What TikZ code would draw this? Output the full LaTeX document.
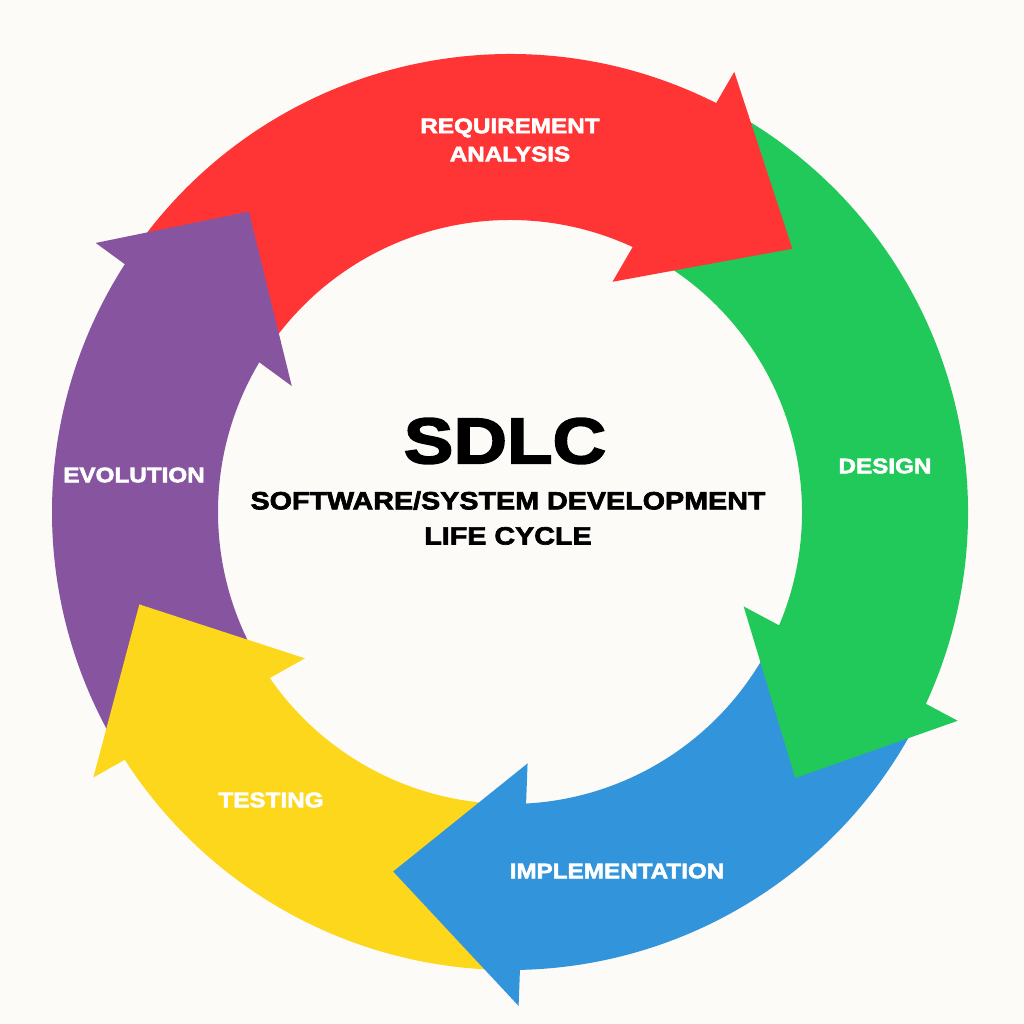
\documentclass[tikz,border=0pt]{standalone}
\usepackage{fontspec}
\usepackage{tikz}
\newfontfamily\sdlcfont{Liberation Sans}[FakeStretch=1.15, FakeBold=2.6]
\definecolor{paper}{HTML}{FCFBF8}
\definecolor{reqred}{HTML}{FF3434}
\definecolor{desgreen}{HTML}{21C95A}
\definecolor{impblue}{HTML}{3294DA}
\definecolor{testyellow}{HTML}{FDD71C}
\definecolor{evolpurple}{HTML}{8755A0}
\tikzstyle{stage}=[text=white, align=center, font=\sdlcfont\bfseries\fontsize{6}{8}\selectfont]
\tikzstyle{title}=[text=black, align=center, font=\sdlcfont\bfseries\fontsize{18.4}{20}\selectfont]
\tikzstyle{subtitle}=[text=black, align=center, font=\sdlcfont\bfseries\fontsize{7.1}{10}\selectfont]

\begin{document}
\begin{tikzpicture}[x=1cm, y=1cm]
    \fill[paper] (-5.10,-5.12) rectangle (5.14,5.12);
    \useasboundingbox (-5.10,-5.12) rectangle (5.14,5.12);
% Bodies
    \fill[reqred] (144:4.58) arc[start angle=144, end angle=62, radius=4.58] -- (62:2.92) arc[start angle=62, end angle=144, radius=2.92] -- cycle;
    \fill[desgreen] (60:4.58) arc[start angle=60, end angle=-26, radius=4.58] -- (-26:2.92) arc[start angle=-26, end angle=60, radius=2.92] -- cycle;
    \fill[impblue] (-29:4.58) arc[start angle=-29, end angle=-90, radius=4.58] -- (-90:2.92) arc[start angle=-90, end angle=-29, radius=2.92] -- cycle;
    \fill[testyellow] (-93:4.58) arc[start angle=-93, end angle=-148.5, radius=4.58] -- (-148.5:2.92) arc[start angle=-148.5, end angle=-93, radius=2.92] -- cycle;
    \fill[evolpurple] (210:4.58) arc[start angle=210, end angle=146, radius=4.58] -- (146:2.92) arc[start angle=146, end angle=210, radius=2.92] -- cycle;
% Heads
    \fill[reqred] (63:4.94) -- (43:3.86) -- (66:2.52) -- cycle;
    \fill[desgreen] (-25:4.94) -- (-43:3.90) -- (-22:2.52) -- cycle;
    \fill[impblue] (-89:4.94) -- (-108:3.78) -- (-86:2.52) -- cycle;
    \fill[testyellow] (-147.5:4.94) -- (-166:3.82) -- (-144.5:2.52) -- cycle;
    \fill[evolpurple] (147:4.94) -- (131:3.98) -- (150:2.52) -- cycle;
% Labels
    \node[stage] (req) at (0,3.72) {REQUIREMENT\\ANALYSIS};
    \node[stage] (design) at (3.75,0.46) {DESIGN};
    \node[stage] (impl) at (1.07,-3.59) {IMPLEMENTATION};
    \node[stage] (test) at (-2.39,-2.88) {TESTING};
    \node[stage] (evol) at (-3.76,0.37) {EVOLUTION};
    \node[title] (sdlc) at (-0.05,0.71) {SDLC};
    \node[subtitle] (sub) at (-0.02,-0.06) {SOFTWARE/SYSTEM DEVELOPMENT\\LIFE CYCLE};
\end{tikzpicture}
\end{document}
